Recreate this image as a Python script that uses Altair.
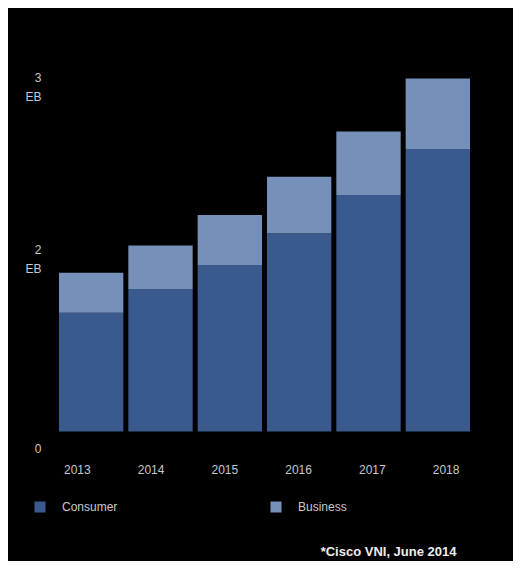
import altair as alt
import pandas as pd

# ---- data ----
years = ["2013", "2014", "2015", "2016", "2017", "2018"]
consumer = [1.01, 1.21, 1.415, 1.685, 2.01, 2.40]   # EB
business = [0.34, 0.37, 0.425, 0.48, 0.54, 0.60]    # EB
series = ["Consumer", "Business"]
colors = ["#3a5a8e", "#7690ba"]

# y-axis labels, as placed in the original graphic
y_tick_values = [-0.106, 1.593, 3.055]
y_tick_labels = [["0"], ["2", "EB"], ["3", "EB"]]

source_note = "*Cisco VNI, June 2014"

rows = []
for i, yr in enumerate(years):
    rows.append({"year": yr, "series": "Consumer", "value": consumer[i], "order": 0})
    rows.append({"year": yr, "series": "Business", "value": business[i], "order": 1})
df = pd.DataFrame(rows)

# build label expression from the lists
expr = "''"
for v, lab in zip(y_tick_values, y_tick_labels):
    arr = "[" + ",".join("'" + s + "'" for s in lab) + "]"
    expr = f"abs(datum.value - ({v})) < 0.01 ? {arr} : ({expr})"

FONT = "Liberation Sans"
LABEL_COLOR = "#c8c8c8"

bars = alt.Chart(df).mark_bar().encode(
    x=alt.X("year:N", sort=years, axis=None,
            scale=alt.Scale(paddingInner=0.072, paddingOuter=0.036)),
    y=alt.Y("value:Q", stack="zero",
            scale=alt.Scale(domain=[-0.2, 3.2], nice=False, zero=False),
            axis=alt.Axis(values=y_tick_values, labelExpr=expr, grid=False,
                          domain=False, ticks=False, title=None,
                          labelBaseline="top", labelPadding=15.5,
                          labelLineHeight=19, labelFontSize=12,
                          labelColor=LABEL_COLOR, labelFont=FONT,
                          labelOverlap=False)),
    color=alt.Color("series:N", sort=series,
                    scale=alt.Scale(domain=series, range=colors),
                    legend=alt.Legend(orient="none", legendX=-22.5, legendY=446,
                                      direction="horizontal", columns=2,
                                      columnPadding=152, labelOffset=16,
                                      symbolType="square", symbolSize=121,
                                      symbolStrokeWidth=0, symbolOpacity=1,
                                      labelFontSize=12, labelColor=LABEL_COLOR,
                                      labelFont=FONT, title=None, padding=0)),
    order=alt.Order("order:Q"),
)

xaxis_layer = alt.Chart(pd.DataFrame({"year": years})).mark_point(opacity=0).encode(
    x=alt.X("year:N", sort=years,
            scale=alt.Scale(type="point", padding=0.32, align=0.43),
            axis=alt.Axis(title=None, domain=False, ticks=False, grid=False,
                          labelPadding=9, labelFontSize=12, labelAngle=0,
                          labelColor=LABEL_COLOR, labelFont=FONT)),
)

chart = alt.layer(bars, xaxis_layer).resolve_scale(x="independent").properties(
    width=416,
    height=400,
    background="#000000",
    padding={"left": 48.5, "top": 47, "right": 40, "bottom": 106},
    autosize=alt.AutoSizeParams(type="none"),
    title=alt.Title(source_note, orient="bottom", anchor="end", fontSize=13,
                    fontWeight="bold", color="#eeeeee", font=FONT,
                    baseline="middle", dx=-16, dy=-13, offset=52),
).configure_view(strokeWidth=0)

chart.save("out.html", embed_options={"renderer": "svg", "actions": False})
